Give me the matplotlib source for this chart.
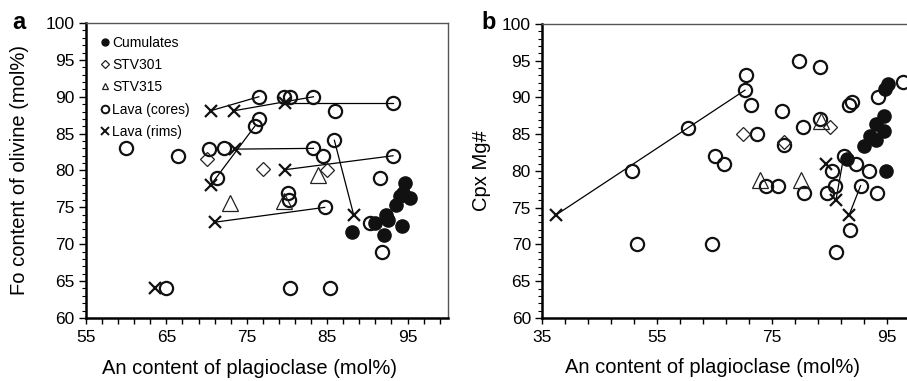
import matplotlib.pyplot as plt
from matplotlib.lines import Line2D
from matplotlib.ticker import MultipleLocator, FixedLocator

plt.rcParams["font.family"] = ["Liberation Sans", "DejaVu Sans"]

# ---- panel a: Fo (olivine) vs An (plagioclase) ----
a_cum_x = [88.1, 90.9, 92.3, 92.6, 92.1, 94.3, 93.6, 94.1, 95.3, 94.5, 94.7]
a_cum_y = [71.7, 72.9, 74.0, 73.3, 71.2, 72.5, 75.3, 76.5, 76.3, 76.9, 78.3]

a_stv301_x = [70.0, 77.0, 85.0]
a_stv301_y = [81.6, 80.2, 80.0]

a_stv315_x = [72.9, 79.6, 83.9]
a_stv315_y = [75.6, 75.8, 79.4]

a_core_x = [60.0, 66.5, 70.3, 72.2, 71.3, 76.0, 76.5, 76.5, 79.6, 80.4, 83.3,
            93.2, 86.0, 83.3, 84.5, 85.9, 93.2, 91.6, 84.7, 80.1, 80.3, 90.3,
            91.8, 64.9, 80.4, 85.4]
a_core_y = [83.0, 82.0, 82.9, 83.0, 79.0, 86.0, 87.0, 90.0, 90.0, 90.0, 90.0,
            89.1, 88.1, 83.0, 82.0, 84.1, 82.0, 79.0, 75.0, 77.0, 76.0, 72.9,
            69.0, 64.0, 64.0, 64.0]

a_rim_x = [63.6, 70.5, 73.4, 79.7, 73.6, 70.5, 79.7, 71.1, 88.3]
a_rim_y = [64.0, 88.1, 88.1, 89.1, 82.9, 78.0, 80.1, 73.0, 74.0]

# rim -> core tie lines
a_tie_x = [(70.5, 76.5), (73.4, 83.3), (79.7, 93.2), (73.6, 83.3),
           (70.5, 76.0), (79.7, 93.2), (71.1, 84.7), (88.3, 85.9)]
a_tie_y = [(88.1, 90.0), (88.1, 90.0), (89.1, 89.1), (82.9, 83.0),
           (78.0, 86.0), (80.1, 82.0), (73.0, 75.0), (74.0, 84.1)]

a_xticks = [55, 57, 59, 61, 63, 65, 67, 69, 71, 73, 75, 77, 79, 81, 83, 85,
            87, 89, 91, 93, 95, 97, 99]
a_xticklabels = [55, 65, 75, 85, 95]

# ---- panel b: Cpx Mg# vs An (plagioclase) ----
b_cum_x = [95.2, 94.6, 94.5, 93.0, 94.4, 92.0, 93.1, 91.0, 88.1, 94.8]
b_cum_y = [91.9, 91.1, 87.5, 86.4, 85.4, 84.8, 84.2, 83.4, 81.6, 80.0]

b_stv301_x = [70.0, 77.0, 85.0]
b_stv301_y = [85.0, 84.0, 86.0]

b_stv315_x = [72.9, 80.0, 83.5]
b_stv315_y = [78.8, 78.8, 86.8]

b_core_x = [50.6, 60.3, 51.5, 70.3, 70.5, 71.3, 72.3, 65.0, 66.7, 74.0, 76.0,
            64.6, 76.7, 77.0, 79.7, 83.3, 80.4, 83.4, 88.4, 88.9, 93.5, 97.8,
            87.5, 89.6, 91.9, 93.3, 90.4, 86.0, 84.5, 85.5, 88.6, 86.1, 80.6]
b_core_y = [80.0, 85.9, 70.0, 91.0, 93.1, 89.0, 85.0, 82.0, 81.0, 78.0, 78.0,
            70.0, 88.1, 83.5, 95.0, 94.1, 86.0, 87.1, 89.0, 89.4, 90.0, 92.1,
            82.1, 81.0, 80.0, 77.0, 78.0, 78.0, 77.0, 80.0, 72.0, 69.0, 77.0]

b_rim_x = [37.4, 84.4, 86.1, 88.4]
b_rim_y = [74.0, 81.0, 76.0, 74.0]

b_tie_x = [(37.4, 70.3), (86.1, 87.5), (88.4, 90.4)]
b_tie_y = [(74.0, 91.0), (76.0, 82.1), (74.0, 78.0)]

b_xticks = [35, 39, 43, 47, 51, 55, 59, 63, 67, 71, 75, 79, 83, 87, 91, 95, 99]
b_xticklabels = [35, 55, 75, 95]

legend_labels = ["Cumulates", "STV301", "STV315", "Lava (cores)", "Lava (rims)"]


def draw_points(ax, cum, s301, s315, core, rim, ties):
    for tx, ty in zip(*ties):
        ax.plot(tx, ty, color="black", lw=0.9, zorder=2)
    open_kw = dict(linestyle="none", markerfacecolor="none", zorder=3)
    ax.plot(core[0], core[1], marker="o", ms=9.5, mec="#111111", mew=1.6, **open_kw)
    ax.plot(s301[0], s301[1], marker="D", ms=7.5, mec="#222222", mew=0.9, **open_kw)
    ax.plot(s315[0], s315[1], marker="^", ms=11, mec="#222222", mew=0.9, **open_kw)
    ax.plot(rim[0], rim[1], marker="x", ms=9, mec="#111111", mew=1.6,
            linestyle="none", zorder=4)
    ax.plot(cum[0], cum[1], marker="o", ms=9.5, color="#111111",
            linestyle="none", zorder=4)


def style_axes(ax, xlim, xticks, xlabels):
    ax.set_xlim(*xlim)
    ax.set_ylim(60, 100)
    ax.xaxis.set_major_locator(FixedLocator(xticks))
    ax.set_xticklabels([str(t) if t in xlabels else "" for t in xticks])
    ax.yaxis.set_major_locator(MultipleLocator(5))
    ax.yaxis.set_minor_locator(MultipleLocator(1))
    ax.tick_params(axis="x", direction="out", length=4, width=1, labelsize=12.5, pad=5)
    ax.tick_params(axis="y", which="major", direction="out", length=5, width=1,
                   labelsize=12.5, pad=3)
    ax.tick_params(axis="y", which="minor", direction="out", length=3, width=0.8)
    for side in ("left", "bottom"):
        ax.spines[side].set_linewidth(1.8)
        ax.spines[side].set_color("black")
    for side in ("top", "right"):
        ax.spines[side].set_linewidth(1.0)
        ax.spines[side].set_color("#555555")


fig = plt.figure(figsize=(9.07, 3.81), dpi=100)
ax_a = fig.add_axes([0.0948, 0.1654, 0.3988, 0.7742])
ax_b = fig.add_axes([0.5976, 0.1654, 0.4121, 0.7716])

draw_points(ax_a, (a_cum_x, a_cum_y), (a_stv301_x, a_stv301_y),
            (a_stv315_x, a_stv315_y), (a_core_x, a_core_y), (a_rim_x, a_rim_y),
            (a_tie_x, a_tie_y))
style_axes(ax_a, (55, 100), a_xticks, a_xticklabels)
ax_a.set_xlabel("An content of plagioclase (mol%)", fontsize=14.5, va="center")
ax_a.xaxis.set_label_coords(0.451, -0.17)
ax_a.set_ylabel("Fo content of olivine (mol%)", fontsize=14.5, va="center")
ax_a.yaxis.set_label_coords(-0.185, 0.5)

draw_points(ax_b, (b_cum_x, b_cum_y), (b_stv301_x, b_stv301_y),
            (b_stv315_x, b_stv315_y), (b_core_x, b_core_y), (b_rim_x, b_rim_y),
            (b_tie_x, b_tie_y))
style_axes(ax_b, (35, 100), b_xticks, b_xticklabels)
ax_b.set_xlabel("An content of plagioclase (mol%)", fontsize=14.5, va="center")
ax_b.xaxis.set_label_coords(0.457, -0.17)
ax_b.set_ylabel("Cpx Mg#", fontsize=14.5, va="center")
ax_b.yaxis.set_label_coords(-0.163, 0.5)

handles = [
    Line2D([], [], marker="o", ls="none", ms=5, color="#111111"),
    Line2D([], [], marker="D", ls="none", ms=4, mfc="none", mec="#222222", mew=0.9),
    Line2D([], [], marker="^", ls="none", ms=5, mfc="none", mec="#222222", mew=0.9),
    Line2D([], [], marker="o", ls="none", ms=5.5, mfc="none", mec="#111111", mew=1.4),
    Line2D([], [], marker="x", ls="none", ms=5.5, mec="#111111", mew=1.4),
]
ax_a.legend(handles, legend_labels, loc="upper left", bbox_to_anchor=(0.015, 0.99),
            frameon=False, fontsize=10, handlelength=0.6, handletextpad=0.2,
            labelspacing=0.6, borderaxespad=0.3)

fig.text(0.014, 0.94, "a", fontsize=17, fontweight="bold", va="center")
fig.text(0.531, 0.94, "b", fontsize=17, fontweight="bold", va="center")

fig.savefig("out.png", dpi=100)
